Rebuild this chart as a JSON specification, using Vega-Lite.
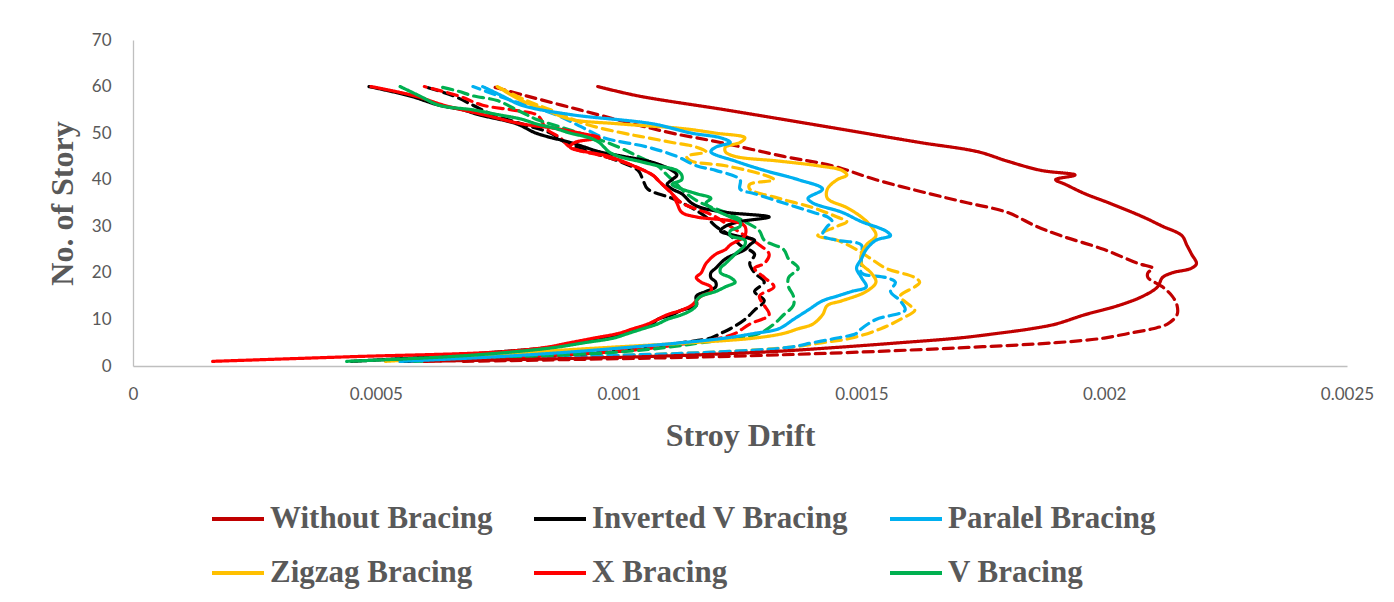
{
"$schema": "https://vega.github.io/schema/vega-lite/v6.json",
"width": 1214, "height": 326,
"autosize": {"type": "none"},
"padding": {"left": 133, "top": 40, "right": 47, "bottom": 236},
"background": "white",
"datasets": {
"lines": [
{"series":"Without Bracing","line":"dashed","story":1,"drift":0.00068},{"series":"Without Bracing","line":"dashed","story":2,"drift":0.0012},{"series":"Without Bracing","line":"dashed","story":3,"drift":0.0015},{"series":"Without Bracing","line":"dashed","story":4,"drift":0.00172},{"series":"Without Bracing","line":"dashed","story":5,"drift":0.0019},{"series":"Without Bracing","line":"dashed","story":6,"drift":0.002},{"series":"Without Bracing","line":"dashed","story":7,"drift":0.00205},{"series":"Without Bracing","line":"dashed","story":8,"drift":0.0021},{"series":"Without Bracing","line":"dashed","story":9,"drift":0.00213},{"series":"Without Bracing","line":"dashed","story":11,"drift":0.00215},{"series":"Without Bracing","line":"dashed","story":13,"drift":0.00215},{"series":"Without Bracing","line":"dashed","story":15,"drift":0.00214},{"series":"Without Bracing","line":"dashed","story":17,"drift":0.00212},{"series":"Without Bracing","line":"dashed","story":19,"drift":0.00209},{"series":"Without Bracing","line":"dashed","story":20,"drift":0.00209},{"series":"Without Bracing","line":"dashed","story":21,"drift":0.0021},{"series":"Without Bracing","line":"dashed","story":22,"drift":0.00207},{"series":"Without Bracing","line":"dashed","story":25,"drift":0.002},{"series":"Without Bracing","line":"dashed","story":28,"drift":0.00191},{"series":"Without Bracing","line":"dashed","story":30,"drift":0.00186},{"series":"Without Bracing","line":"dashed","story":33,"drift":0.0018},{"series":"Without Bracing","line":"dashed","story":35,"drift":0.00172},{"series":"Without Bracing","line":"dashed","story":37,"drift":0.00164},{"series":"Without Bracing","line":"dashed","story":40,"drift":0.00153},{"series":"Without Bracing","line":"dashed","story":43,"drift":0.00144},{"series":"Without Bracing","line":"dashed","story":45,"drift":0.00134},{"series":"Without Bracing","line":"dashed","story":48,"drift":0.00121},{"series":"Without Bracing","line":"dashed","story":50,"drift":0.00111},{"series":"Without Bracing","line":"dashed","story":52,"drift":0.00103},{"series":"Without Bracing","line":"dashed","story":55,"drift":0.00092},{"series":"Without Bracing","line":"dashed","story":58,"drift":0.00081},{"series":"Without Bracing","line":"dashed","story":60,"drift":0.00074},

{"series":"Zigzag Bracing","line":"dashed","story":1,"drift":0.00055},{"series":"Zigzag Bracing","line":"dashed","story":2,"drift":0.0009},{"series":"Zigzag Bracing","line":"dashed","story":3,"drift":0.0012},{"series":"Zigzag Bracing","line":"dashed","story":4,"drift":0.00135},{"series":"Zigzag Bracing","line":"dashed","story":5,"drift":0.00142},{"series":"Zigzag Bracing","line":"dashed","story":6,"drift":0.00148},{"series":"Zigzag Bracing","line":"dashed","story":8,"drift":0.00154},{"series":"Zigzag Bracing","line":"dashed","story":10,"drift":0.00158},{"series":"Zigzag Bracing","line":"dashed","story":12,"drift":0.00161},{"series":"Zigzag Bracing","line":"dashed","story":13,"drift":0.0016},{"series":"Zigzag Bracing","line":"dashed","story":15,"drift":0.00158},{"series":"Zigzag Bracing","line":"dashed","story":17,"drift":0.00161},{"series":"Zigzag Bracing","line":"dashed","story":18,"drift":0.00162},{"series":"Zigzag Bracing","line":"dashed","story":19,"drift":0.00161},{"series":"Zigzag Bracing","line":"dashed","story":21,"drift":0.00155},{"series":"Zigzag Bracing","line":"dashed","story":23,"drift":0.00152},{"series":"Zigzag Bracing","line":"dashed","story":25,"drift":0.00149},{"series":"Zigzag Bracing","line":"dashed","story":27,"drift":0.00145},{"series":"Zigzag Bracing","line":"dashed","story":28,"drift":0.00141},{"series":"Zigzag Bracing","line":"dashed","story":30,"drift":0.00145},{"series":"Zigzag Bracing","line":"dashed","story":31,"drift":0.00147},{"series":"Zigzag Bracing","line":"dashed","story":32,"drift":0.00145},{"series":"Zigzag Bracing","line":"dashed","story":34,"drift":0.0014},{"series":"Zigzag Bracing","line":"dashed","story":36,"drift":0.00133},{"series":"Zigzag Bracing","line":"dashed","story":38,"drift":0.00127},{"series":"Zigzag Bracing","line":"dashed","story":39,"drift":0.00127},{"series":"Zigzag Bracing","line":"dashed","story":40,"drift":0.00132},{"series":"Zigzag Bracing","line":"dashed","story":41,"drift":0.0013},{"series":"Zigzag Bracing","line":"dashed","story":43,"drift":0.00122},{"series":"Zigzag Bracing","line":"dashed","story":44,"drift":0.00115},{"series":"Zigzag Bracing","line":"dashed","story":45,"drift":0.00114},{"series":"Zigzag Bracing","line":"dashed","story":46,"drift":0.00118},{"series":"Zigzag Bracing","line":"dashed","story":47,"drift":0.00116},{"series":"Zigzag Bracing","line":"dashed","story":48,"drift":0.00111},{"series":"Zigzag Bracing","line":"dashed","story":49,"drift":0.00106},{"series":"Zigzag Bracing","line":"dashed","story":50,"drift":0.00101},{"series":"Zigzag Bracing","line":"dashed","story":52,"drift":0.00093},{"series":"Zigzag Bracing","line":"dashed","story":55,"drift":0.00086},{"series":"Zigzag Bracing","line":"dashed","story":57,"drift":0.00081},{"series":"Zigzag Bracing","line":"dashed","story":60,"drift":0.00075},

{"series":"Paralel Bracing","line":"dashed","story":1,"drift":0.00055},{"series":"Paralel Bracing","line":"dashed","story":2,"drift":0.0009},{"series":"Paralel Bracing","line":"dashed","story":3,"drift":0.0012},{"series":"Paralel Bracing","line":"dashed","story":4,"drift":0.00135},{"series":"Paralel Bracing","line":"dashed","story":5,"drift":0.0014},{"series":"Paralel Bracing","line":"dashed","story":6,"drift":0.00145},{"series":"Paralel Bracing","line":"dashed","story":7,"drift":0.00149},{"series":"Paralel Bracing","line":"dashed","story":8,"drift":0.0015},{"series":"Paralel Bracing","line":"dashed","story":10,"drift":0.00153},{"series":"Paralel Bracing","line":"dashed","story":12,"drift":0.00159},{"series":"Paralel Bracing","line":"dashed","story":14,"drift":0.00158},{"series":"Paralel Bracing","line":"dashed","story":16,"drift":0.00156},{"series":"Paralel Bracing","line":"dashed","story":18,"drift":0.00157},{"series":"Paralel Bracing","line":"dashed","story":19,"drift":0.00155},{"series":"Paralel Bracing","line":"dashed","story":20,"drift":0.0015},{"series":"Paralel Bracing","line":"dashed","story":22,"drift":0.0015},{"series":"Paralel Bracing","line":"dashed","story":24,"drift":0.0015},{"series":"Paralel Bracing","line":"dashed","story":26,"drift":0.0015},{"series":"Paralel Bracing","line":"dashed","story":27,"drift":0.00145},{"series":"Paralel Bracing","line":"dashed","story":28,"drift":0.00142},{"series":"Paralel Bracing","line":"dashed","story":30,"drift":0.00143},{"series":"Paralel Bracing","line":"dashed","story":31,"drift":0.00144},{"series":"Paralel Bracing","line":"dashed","story":32,"drift":0.00143},{"series":"Paralel Bracing","line":"dashed","story":33,"drift":0.0014},{"series":"Paralel Bracing","line":"dashed","story":35,"drift":0.00134},{"series":"Paralel Bracing","line":"dashed","story":37,"drift":0.00128},{"series":"Paralel Bracing","line":"dashed","story":38,"drift":0.00125},{"series":"Paralel Bracing","line":"dashed","story":40,"drift":0.00125},{"series":"Paralel Bracing","line":"dashed","story":42,"drift":0.0012},{"series":"Paralel Bracing","line":"dashed","story":43,"drift":0.00116},{"series":"Paralel Bracing","line":"dashed","story":45,"drift":0.00112},{"series":"Paralel Bracing","line":"dashed","story":47,"drift":0.00106},{"series":"Paralel Bracing","line":"dashed","story":49,"drift":0.00097},{"series":"Paralel Bracing","line":"dashed","story":51,"drift":0.00093},{"series":"Paralel Bracing","line":"dashed","story":54,"drift":0.00087},{"series":"Paralel Bracing","line":"dashed","story":57,"drift":0.00078},{"series":"Paralel Bracing","line":"dashed","story":60,"drift":0.0007},

{"series":"Inverted V Bracing","line":"dashed","story":1,"drift":0.00056},{"series":"Inverted V Bracing","line":"dashed","story":2,"drift":0.0008},{"series":"Inverted V Bracing","line":"dashed","story":3,"drift":0.00098},{"series":"Inverted V Bracing","line":"dashed","story":4,"drift":0.00107},{"series":"Inverted V Bracing","line":"dashed","story":5,"drift":0.00113},{"series":"Inverted V Bracing","line":"dashed","story":6,"drift":0.00119},{"series":"Inverted V Bracing","line":"dashed","story":7,"drift":0.00121},{"series":"Inverted V Bracing","line":"dashed","story":8,"drift":0.00123},{"series":"Inverted V Bracing","line":"dashed","story":10,"drift":0.00126},{"series":"Inverted V Bracing","line":"dashed","story":12,"drift":0.00128},{"series":"Inverted V Bracing","line":"dashed","story":14,"drift":0.0013},{"series":"Inverted V Bracing","line":"dashed","story":16,"drift":0.00128},{"series":"Inverted V Bracing","line":"dashed","story":18,"drift":0.0013},{"series":"Inverted V Bracing","line":"dashed","story":20,"drift":0.00128},{"series":"Inverted V Bracing","line":"dashed","story":22,"drift":0.00127},{"series":"Inverted V Bracing","line":"dashed","story":24,"drift":0.00128},{"series":"Inverted V Bracing","line":"dashed","story":26,"drift":0.00125},{"series":"Inverted V Bracing","line":"dashed","story":28,"drift":0.00123},{"series":"Inverted V Bracing","line":"dashed","story":30,"drift":0.0012},{"series":"Inverted V Bracing","line":"dashed","story":32,"drift":0.00118},{"series":"Inverted V Bracing","line":"dashed","story":34,"drift":0.00115},{"series":"Inverted V Bracing","line":"dashed","story":36,"drift":0.00111},{"series":"Inverted V Bracing","line":"dashed","story":38,"drift":0.00106},{"series":"Inverted V Bracing","line":"dashed","story":40,"drift":0.00105},{"series":"Inverted V Bracing","line":"dashed","story":42,"drift":0.00104},{"series":"Inverted V Bracing","line":"dashed","story":44,"drift":0.001},{"series":"Inverted V Bracing","line":"dashed","story":46,"drift":0.00094},{"series":"Inverted V Bracing","line":"dashed","story":48,"drift":0.00089},{"series":"Inverted V Bracing","line":"dashed","story":50,"drift":0.00086},{"series":"Inverted V Bracing","line":"dashed","story":52,"drift":0.0008},{"series":"Inverted V Bracing","line":"dashed","story":54,"drift":0.00074},{"series":"Inverted V Bracing","line":"dashed","story":56,"drift":0.0007},{"series":"Inverted V Bracing","line":"dashed","story":58,"drift":0.00066},{"series":"Inverted V Bracing","line":"dashed","story":60,"drift":0.0006},

{"series":"X Bracing","line":"dashed","story":1,"drift":0.0006},{"series":"X Bracing","line":"dashed","story":2,"drift":0.0008},{"series":"X Bracing","line":"dashed","story":3,"drift":0.00098},{"series":"X Bracing","line":"dashed","story":4,"drift":0.00108},{"series":"X Bracing","line":"dashed","story":5,"drift":0.00115},{"series":"X Bracing","line":"dashed","story":6,"drift":0.00121},{"series":"X Bracing","line":"dashed","story":7,"drift":0.00124},{"series":"X Bracing","line":"dashed","story":9,"drift":0.00127},{"series":"X Bracing","line":"dashed","story":11,"drift":0.00131},{"series":"X Bracing","line":"dashed","story":13,"drift":0.0013},{"series":"X Bracing","line":"dashed","story":15,"drift":0.00129},{"series":"X Bracing","line":"dashed","story":17,"drift":0.00132},{"series":"X Bracing","line":"dashed","story":19,"drift":0.0013},{"series":"X Bracing","line":"dashed","story":21,"drift":0.00128},{"series":"X Bracing","line":"dashed","story":22,"drift":0.0013},{"series":"X Bracing","line":"dashed","story":24,"drift":0.00131},{"series":"X Bracing","line":"dashed","story":26,"drift":0.00129},{"series":"X Bracing","line":"dashed","story":28,"drift":0.00126},{"series":"X Bracing","line":"dashed","story":30,"drift":0.00123},{"series":"X Bracing","line":"dashed","story":32,"drift":0.0012},{"series":"X Bracing","line":"dashed","story":33,"drift":0.00118},{"series":"X Bracing","line":"dashed","story":35,"drift":0.00113},{"series":"X Bracing","line":"dashed","story":37,"drift":0.00111},{"series":"X Bracing","line":"dashed","story":39,"drift":0.00109},{"series":"X Bracing","line":"dashed","story":41,"drift":0.00107},{"series":"X Bracing","line":"dashed","story":43,"drift":0.00103},{"series":"X Bracing","line":"dashed","story":45,"drift":0.00097},{"series":"X Bracing","line":"dashed","story":47,"drift":0.0009},{"series":"X Bracing","line":"dashed","story":49,"drift":0.00088},{"series":"X Bracing","line":"dashed","story":51,"drift":0.00085},{"series":"X Bracing","line":"dashed","story":53,"drift":0.00084},{"series":"X Bracing","line":"dashed","story":54,"drift":0.00083},{"series":"X Bracing","line":"dashed","story":55,"drift":0.00078},{"series":"X Bracing","line":"dashed","story":56,"drift":0.00072},{"series":"X Bracing","line":"dashed","story":58,"drift":0.00067},{"series":"X Bracing","line":"dashed","story":60,"drift":0.0006},

{"series":"V Bracing","line":"dashed","story":1,"drift":0.00058},{"series":"V Bracing","line":"dashed","story":2,"drift":0.0008},{"series":"V Bracing","line":"dashed","story":3,"drift":0.001},{"series":"V Bracing","line":"dashed","story":4,"drift":0.0011},{"series":"V Bracing","line":"dashed","story":5,"drift":0.00117},{"series":"V Bracing","line":"dashed","story":6,"drift":0.00124},{"series":"V Bracing","line":"dashed","story":7,"drift":0.00129},{"series":"V Bracing","line":"dashed","story":9,"drift":0.00132},{"series":"V Bracing","line":"dashed","story":11,"drift":0.00134},{"series":"V Bracing","line":"dashed","story":13,"drift":0.00136},{"series":"V Bracing","line":"dashed","story":15,"drift":0.00136},{"series":"V Bracing","line":"dashed","story":17,"drift":0.00135},{"series":"V Bracing","line":"dashed","story":19,"drift":0.00135},{"series":"V Bracing","line":"dashed","story":21,"drift":0.00137},{"series":"V Bracing","line":"dashed","story":23,"drift":0.00135},{"series":"V Bracing","line":"dashed","story":25,"drift":0.00134},{"series":"V Bracing","line":"dashed","story":27,"drift":0.0013},{"series":"V Bracing","line":"dashed","story":29,"drift":0.00129},{"series":"V Bracing","line":"dashed","story":31,"drift":0.00126},{"series":"V Bracing","line":"dashed","story":33,"drift":0.00122},{"series":"V Bracing","line":"dashed","story":35,"drift":0.00117},{"series":"V Bracing","line":"dashed","story":37,"drift":0.00114},{"series":"V Bracing","line":"dashed","story":39,"drift":0.00112},{"series":"V Bracing","line":"dashed","story":41,"drift":0.0011},{"series":"V Bracing","line":"dashed","story":43,"drift":0.00108},{"series":"V Bracing","line":"dashed","story":45,"drift":0.00104},{"series":"V Bracing","line":"dashed","story":47,"drift":0.001},{"series":"V Bracing","line":"dashed","story":49,"drift":0.00095},{"series":"V Bracing","line":"dashed","story":51,"drift":0.00089},{"series":"V Bracing","line":"dashed","story":53,"drift":0.00083},{"series":"V Bracing","line":"dashed","story":54,"drift":0.00081},{"series":"V Bracing","line":"dashed","story":55,"drift":0.00079},{"series":"V Bracing","line":"dashed","story":57,"drift":0.00075},{"series":"V Bracing","line":"dashed","story":58,"drift":0.0007},{"series":"V Bracing","line":"dashed","story":59,"drift":0.00067},{"series":"V Bracing","line":"dashed","story":60,"drift":0.00063},

{"series":"Without Bracing","line":"solid","story":1,"drift":0.0006},{"series":"Without Bracing","line":"solid","story":2,"drift":0.00105},{"series":"Without Bracing","line":"solid","story":3,"drift":0.0013},{"series":"Without Bracing","line":"solid","story":4,"drift":0.00145},{"series":"Without Bracing","line":"solid","story":5,"drift":0.00158},{"series":"Without Bracing","line":"solid","story":6,"drift":0.0017},{"series":"Without Bracing","line":"solid","story":7,"drift":0.00178},{"series":"Without Bracing","line":"solid","story":8,"drift":0.00185},{"series":"Without Bracing","line":"solid","story":9,"drift":0.0019},{"series":"Without Bracing","line":"solid","story":11,"drift":0.00196},{"series":"Without Bracing","line":"solid","story":13,"drift":0.00203},{"series":"Without Bracing","line":"solid","story":15,"drift":0.00208},{"series":"Without Bracing","line":"solid","story":17,"drift":0.00211},{"series":"Without Bracing","line":"solid","story":19,"drift":0.00212},{"series":"Without Bracing","line":"solid","story":20,"drift":0.00214},{"series":"Without Bracing","line":"solid","story":21,"drift":0.00218},{"series":"Without Bracing","line":"solid","story":22,"drift":0.00219},{"series":"Without Bracing","line":"solid","story":24,"drift":0.00218},{"series":"Without Bracing","line":"solid","story":26,"drift":0.00217},{"series":"Without Bracing","line":"solid","story":28,"drift":0.00216},{"series":"Without Bracing","line":"solid","story":30,"drift":0.00212},{"series":"Without Bracing","line":"solid","story":32,"drift":0.00208},{"series":"Without Bracing","line":"solid","story":35,"drift":0.00201},{"series":"Without Bracing","line":"solid","story":37,"drift":0.00196},{"series":"Without Bracing","line":"solid","story":39,"drift":0.00192},{"series":"Without Bracing","line":"solid","story":40,"drift":0.0019},{"series":"Without Bracing","line":"solid","story":41,"drift":0.00194},{"series":"Without Bracing","line":"solid","story":42,"drift":0.00187},{"series":"Without Bracing","line":"solid","story":44,"drift":0.0018},{"series":"Without Bracing","line":"solid","story":46,"drift":0.00174},{"series":"Without Bracing","line":"solid","story":48,"drift":0.00162},{"series":"Without Bracing","line":"solid","story":51,"drift":0.00145},{"series":"Without Bracing","line":"solid","story":55,"drift":0.00122},{"series":"Without Bracing","line":"solid","story":58,"drift":0.00104},{"series":"Without Bracing","line":"solid","story":60,"drift":0.000957},

{"series":"Zigzag Bracing","line":"solid","story":1,"drift":0.00052},{"series":"Zigzag Bracing","line":"solid","story":2,"drift":0.00068},{"series":"Zigzag Bracing","line":"solid","story":3,"drift":0.00082},{"series":"Zigzag Bracing","line":"solid","story":4,"drift":0.00098},{"series":"Zigzag Bracing","line":"solid","story":5,"drift":0.00115},{"series":"Zigzag Bracing","line":"solid","story":6,"drift":0.00128},{"series":"Zigzag Bracing","line":"solid","story":7,"drift":0.00134},{"series":"Zigzag Bracing","line":"solid","story":8,"drift":0.00137},{"series":"Zigzag Bracing","line":"solid","story":9,"drift":0.0014},{"series":"Zigzag Bracing","line":"solid","story":11,"drift":0.00142},{"series":"Zigzag Bracing","line":"solid","story":13,"drift":0.00143},{"series":"Zigzag Bracing","line":"solid","story":14,"drift":0.00146},{"series":"Zigzag Bracing","line":"solid","story":16,"drift":0.00151},{"series":"Zigzag Bracing","line":"solid","story":18,"drift":0.00153},{"series":"Zigzag Bracing","line":"solid","story":20,"drift":0.00152},{"series":"Zigzag Bracing","line":"solid","story":22,"drift":0.0015},{"series":"Zigzag Bracing","line":"solid","story":24,"drift":0.0015},{"series":"Zigzag Bracing","line":"solid","story":26,"drift":0.00151},{"series":"Zigzag Bracing","line":"solid","story":28,"drift":0.00153},{"series":"Zigzag Bracing","line":"solid","story":30,"drift":0.00152},{"series":"Zigzag Bracing","line":"solid","story":32,"drift":0.0015},{"series":"Zigzag Bracing","line":"solid","story":34,"drift":0.00147},{"series":"Zigzag Bracing","line":"solid","story":36,"drift":0.00143},{"series":"Zigzag Bracing","line":"solid","story":38,"drift":0.00143},{"series":"Zigzag Bracing","line":"solid","story":40,"drift":0.00145},{"series":"Zigzag Bracing","line":"solid","story":41,"drift":0.00147},{"series":"Zigzag Bracing","line":"solid","story":42,"drift":0.00146},{"series":"Zigzag Bracing","line":"solid","story":43,"drift":0.00141},{"series":"Zigzag Bracing","line":"solid","story":44,"drift":0.00133},{"series":"Zigzag Bracing","line":"solid","story":45,"drift":0.00124},{"series":"Zigzag Bracing","line":"solid","story":46,"drift":0.00122},{"series":"Zigzag Bracing","line":"solid","story":47,"drift":0.00122},{"series":"Zigzag Bracing","line":"solid","story":48,"drift":0.00125},{"series":"Zigzag Bracing","line":"solid","story":49,"drift":0.00126},{"series":"Zigzag Bracing","line":"solid","story":50,"drift":0.0012},{"series":"Zigzag Bracing","line":"solid","story":51,"drift":0.00113},{"series":"Zigzag Bracing","line":"solid","story":52,"drift":0.001},{"series":"Zigzag Bracing","line":"solid","story":53,"drift":0.0009},{"series":"Zigzag Bracing","line":"solid","story":55,"drift":0.00085},{"series":"Zigzag Bracing","line":"solid","story":57,"drift":0.0008},{"series":"Zigzag Bracing","line":"solid","story":60,"drift":0.00075},

{"series":"Paralel Bracing","line":"solid","story":1,"drift":0.00055},{"series":"Paralel Bracing","line":"solid","story":2,"drift":0.00075},{"series":"Paralel Bracing","line":"solid","story":3,"drift":0.0009},{"series":"Paralel Bracing","line":"solid","story":4,"drift":0.00102},{"series":"Paralel Bracing","line":"solid","story":5,"drift":0.00113},{"series":"Paralel Bracing","line":"solid","story":6,"drift":0.00122},{"series":"Paralel Bracing","line":"solid","story":7,"drift":0.00128},{"series":"Paralel Bracing","line":"solid","story":8,"drift":0.00133},{"series":"Paralel Bracing","line":"solid","story":10,"drift":0.00136},{"series":"Paralel Bracing","line":"solid","story":12,"drift":0.00139},{"series":"Paralel Bracing","line":"solid","story":14,"drift":0.00142},{"series":"Paralel Bracing","line":"solid","story":15,"drift":0.00145},{"series":"Paralel Bracing","line":"solid","story":16,"drift":0.00148},{"series":"Paralel Bracing","line":"solid","story":17,"drift":0.00151},{"series":"Paralel Bracing","line":"solid","story":19,"drift":0.0015},{"series":"Paralel Bracing","line":"solid","story":21,"drift":0.00149},{"series":"Paralel Bracing","line":"solid","story":23,"drift":0.0015},{"series":"Paralel Bracing","line":"solid","story":25,"drift":0.00151},{"series":"Paralel Bracing","line":"solid","story":27,"drift":0.00153},{"series":"Paralel Bracing","line":"solid","story":28,"drift":0.00156},{"series":"Paralel Bracing","line":"solid","story":29,"drift":0.00155},{"series":"Paralel Bracing","line":"solid","story":31,"drift":0.0015},{"series":"Paralel Bracing","line":"solid","story":33,"drift":0.00146},{"series":"Paralel Bracing","line":"solid","story":35,"drift":0.0014},{"series":"Paralel Bracing","line":"solid","story":36,"drift":0.00139},{"series":"Paralel Bracing","line":"solid","story":38,"drift":0.00142},{"series":"Paralel Bracing","line":"solid","story":40,"drift":0.00137},{"series":"Paralel Bracing","line":"solid","story":42,"drift":0.0013},{"series":"Paralel Bracing","line":"solid","story":44,"drift":0.00124},{"series":"Paralel Bracing","line":"solid","story":46,"drift":0.00119},{"series":"Paralel Bracing","line":"solid","story":47,"drift":0.0012},{"series":"Paralel Bracing","line":"solid","story":48,"drift":0.00123},{"series":"Paralel Bracing","line":"solid","story":49,"drift":0.00121},{"series":"Paralel Bracing","line":"solid","story":50,"drift":0.00115},{"series":"Paralel Bracing","line":"solid","story":52,"drift":0.00107},{"series":"Paralel Bracing","line":"solid","story":54,"drift":0.0009},{"series":"Paralel Bracing","line":"solid","story":56,"drift":0.0008},{"series":"Paralel Bracing","line":"solid","story":58,"drift":0.00076},{"series":"Paralel Bracing","line":"solid","story":60,"drift":0.00072},

{"series":"Inverted V Bracing","line":"solid","story":1,"drift":0.00045},{"series":"Inverted V Bracing","line":"solid","story":2,"drift":0.00062},{"series":"Inverted V Bracing","line":"solid","story":3,"drift":0.00075},{"series":"Inverted V Bracing","line":"solid","story":4,"drift":0.00086},{"series":"Inverted V Bracing","line":"solid","story":5,"drift":0.00092},{"series":"Inverted V Bracing","line":"solid","story":6,"drift":0.00097},{"series":"Inverted V Bracing","line":"solid","story":7,"drift":0.00101},{"series":"Inverted V Bracing","line":"solid","story":8,"drift":0.00104},{"series":"Inverted V Bracing","line":"solid","story":9,"drift":0.00107},{"series":"Inverted V Bracing","line":"solid","story":10,"drift":0.00108},{"series":"Inverted V Bracing","line":"solid","story":11,"drift":0.00111},{"series":"Inverted V Bracing","line":"solid","story":12,"drift":0.00113},{"series":"Inverted V Bracing","line":"solid","story":13,"drift":0.00116},{"series":"Inverted V Bracing","line":"solid","story":15,"drift":0.00116},{"series":"Inverted V Bracing","line":"solid","story":16,"drift":0.00118},{"series":"Inverted V Bracing","line":"solid","story":17,"drift":0.0012},{"series":"Inverted V Bracing","line":"solid","story":18,"drift":0.0012},{"series":"Inverted V Bracing","line":"solid","story":19,"drift":0.00119},{"series":"Inverted V Bracing","line":"solid","story":20,"drift":0.00119},{"series":"Inverted V Bracing","line":"solid","story":21,"drift":0.0012},{"series":"Inverted V Bracing","line":"solid","story":23,"drift":0.00122},{"series":"Inverted V Bracing","line":"solid","story":24,"drift":0.00124},{"series":"Inverted V Bracing","line":"solid","story":25,"drift":0.00126},{"series":"Inverted V Bracing","line":"solid","story":26,"drift":0.00127},{"series":"Inverted V Bracing","line":"solid","story":27,"drift":0.00128},{"series":"Inverted V Bracing","line":"solid","story":28,"drift":0.00124},{"series":"Inverted V Bracing","line":"solid","story":29,"drift":0.00121},{"series":"Inverted V Bracing","line":"solid","story":30,"drift":0.00122},{"series":"Inverted V Bracing","line":"solid","story":31,"drift":0.00125},{"series":"Inverted V Bracing","line":"solid","story":32,"drift":0.00131},{"series":"Inverted V Bracing","line":"solid","story":33,"drift":0.00122},{"series":"Inverted V Bracing","line":"solid","story":34,"drift":0.00117},{"series":"Inverted V Bracing","line":"solid","story":35,"drift":0.00115},{"series":"Inverted V Bracing","line":"solid","story":36,"drift":0.00114},{"series":"Inverted V Bracing","line":"solid","story":37,"drift":0.00113},{"series":"Inverted V Bracing","line":"solid","story":38,"drift":0.00111},{"series":"Inverted V Bracing","line":"solid","story":39,"drift":0.0011},{"series":"Inverted V Bracing","line":"solid","story":40,"drift":0.00111},{"series":"Inverted V Bracing","line":"solid","story":41,"drift":0.00112},{"series":"Inverted V Bracing","line":"solid","story":42,"drift":0.00111},{"series":"Inverted V Bracing","line":"solid","story":43,"drift":0.00109},{"series":"Inverted V Bracing","line":"solid","story":44,"drift":0.00106},{"series":"Inverted V Bracing","line":"solid","story":45,"drift":0.00101},{"series":"Inverted V Bracing","line":"solid","story":46,"drift":0.00096},{"series":"Inverted V Bracing","line":"solid","story":47,"drift":0.00093},{"series":"Inverted V Bracing","line":"solid","story":48,"drift":0.0009},{"series":"Inverted V Bracing","line":"solid","story":50,"drift":0.00083},{"series":"Inverted V Bracing","line":"solid","story":52,"drift":0.00079},{"series":"Inverted V Bracing","line":"solid","story":54,"drift":0.00071},{"series":"Inverted V Bracing","line":"solid","story":55,"drift":0.00068},{"series":"Inverted V Bracing","line":"solid","story":56,"drift":0.00063},{"series":"Inverted V Bracing","line":"solid","story":58,"drift":0.00057},{"series":"Inverted V Bracing","line":"solid","story":60,"drift":0.000486},

{"series":"X Bracing","line":"solid","story":1,"drift":0.000164},{"series":"X Bracing","line":"solid","story":2,"drift":0.00045},{"series":"X Bracing","line":"solid","story":3,"drift":0.00075},{"series":"X Bracing","line":"solid","story":4,"drift":0.00085},{"series":"X Bracing","line":"solid","story":5,"drift":0.0009},{"series":"X Bracing","line":"solid","story":6,"drift":0.00095},{"series":"X Bracing","line":"solid","story":7,"drift":0.001},{"series":"X Bracing","line":"solid","story":8,"drift":0.00103},{"series":"X Bracing","line":"solid","story":9,"drift":0.00106},{"series":"X Bracing","line":"solid","story":10,"drift":0.00108},{"series":"X Bracing","line":"solid","story":11,"drift":0.0011},{"series":"X Bracing","line":"solid","story":12,"drift":0.00113},{"series":"X Bracing","line":"solid","story":13,"drift":0.00115},{"series":"X Bracing","line":"solid","story":14,"drift":0.00116},{"series":"X Bracing","line":"solid","story":15,"drift":0.00117},{"series":"X Bracing","line":"solid","story":16,"drift":0.00119},{"series":"X Bracing","line":"solid","story":17,"drift":0.00119},{"series":"X Bracing","line":"solid","story":18,"drift":0.00117},{"series":"X Bracing","line":"solid","story":19,"drift":0.00116},{"series":"X Bracing","line":"solid","story":20,"drift":0.00117},{"series":"X Bracing","line":"solid","story":22,"drift":0.00118},{"series":"X Bracing","line":"solid","story":24,"drift":0.0012},{"series":"X Bracing","line":"solid","story":25,"drift":0.00122},{"series":"X Bracing","line":"solid","story":26,"drift":0.00123},{"series":"X Bracing","line":"solid","story":28,"drift":0.00126},{"series":"X Bracing","line":"solid","story":30,"drift":0.00126},{"series":"X Bracing","line":"solid","story":31,"drift":0.00124},{"series":"X Bracing","line":"solid","story":32,"drift":0.00116},{"series":"X Bracing","line":"solid","story":33,"drift":0.00113},{"series":"X Bracing","line":"solid","story":35,"drift":0.00112},{"series":"X Bracing","line":"solid","story":37,"drift":0.00111},{"series":"X Bracing","line":"solid","story":39,"drift":0.00109},{"series":"X Bracing","line":"solid","story":40,"drift":0.00108},{"series":"X Bracing","line":"solid","story":41,"drift":0.00107},{"series":"X Bracing","line":"solid","story":43,"drift":0.00103},{"series":"X Bracing","line":"solid","story":45,"drift":0.00098},{"series":"X Bracing","line":"solid","story":47,"drift":0.0009},{"series":"X Bracing","line":"solid","story":48,"drift":0.00091},{"series":"X Bracing","line":"solid","story":49,"drift":0.00096},{"series":"X Bracing","line":"solid","story":50,"drift":0.00092},{"series":"X Bracing","line":"solid","story":51,"drift":0.00087},{"series":"X Bracing","line":"solid","story":52,"drift":0.0008},{"series":"X Bracing","line":"solid","story":54,"drift":0.00072},{"series":"X Bracing","line":"solid","story":56,"drift":0.00064},{"series":"X Bracing","line":"solid","story":58,"drift":0.00058},{"series":"X Bracing","line":"solid","story":60,"drift":0.00049},

{"series":"V Bracing","line":"solid","story":1,"drift":0.00044},{"series":"V Bracing","line":"solid","story":2,"drift":0.00065},{"series":"V Bracing","line":"solid","story":3,"drift":0.00078},{"series":"V Bracing","line":"solid","story":4,"drift":0.00087},{"series":"V Bracing","line":"solid","story":5,"drift":0.00093},{"series":"V Bracing","line":"solid","story":6,"drift":0.00099},{"series":"V Bracing","line":"solid","story":7,"drift":0.00102},{"series":"V Bracing","line":"solid","story":8,"drift":0.00105},{"series":"V Bracing","line":"solid","story":9,"drift":0.00108},{"series":"V Bracing","line":"solid","story":10,"drift":0.0011},{"series":"V Bracing","line":"solid","story":11,"drift":0.00113},{"series":"V Bracing","line":"solid","story":12,"drift":0.00115},{"series":"V Bracing","line":"solid","story":13,"drift":0.00116},{"series":"V Bracing","line":"solid","story":14,"drift":0.00116},{"series":"V Bracing","line":"solid","story":15,"drift":0.00117},{"series":"V Bracing","line":"solid","story":16,"drift":0.0012},{"series":"V Bracing","line":"solid","story":17,"drift":0.00122},{"series":"V Bracing","line":"solid","story":18,"drift":0.00124},{"series":"V Bracing","line":"solid","story":19,"drift":0.00123},{"series":"V Bracing","line":"solid","story":20,"drift":0.00121},{"series":"V Bracing","line":"solid","story":21,"drift":0.00121},{"series":"V Bracing","line":"solid","story":22,"drift":0.00122},{"series":"V Bracing","line":"solid","story":24,"drift":0.00124},{"series":"V Bracing","line":"solid","story":26,"drift":0.00126},{"series":"V Bracing","line":"solid","story":27,"drift":0.00126},{"series":"V Bracing","line":"solid","story":28,"drift":0.00123},{"series":"V Bracing","line":"solid","story":29,"drift":0.00123},{"series":"V Bracing","line":"solid","story":30,"drift":0.00125},{"series":"V Bracing","line":"solid","story":31,"drift":0.00125},{"series":"V Bracing","line":"solid","story":32,"drift":0.00123},{"series":"V Bracing","line":"solid","story":34,"drift":0.00119},{"series":"V Bracing","line":"solid","story":35,"drift":0.00118},{"series":"V Bracing","line":"solid","story":36,"drift":0.00119},{"series":"V Bracing","line":"solid","story":37,"drift":0.00116},{"series":"V Bracing","line":"solid","story":38,"drift":0.00113},{"series":"V Bracing","line":"solid","story":39,"drift":0.00111},{"series":"V Bracing","line":"solid","story":40,"drift":0.00113},{"series":"V Bracing","line":"solid","story":41,"drift":0.00113},{"series":"V Bracing","line":"solid","story":42,"drift":0.00112},{"series":"V Bracing","line":"solid","story":43,"drift":0.00108},{"series":"V Bracing","line":"solid","story":44,"drift":0.00104},{"series":"V Bracing","line":"solid","story":45,"drift":0.001},{"series":"V Bracing","line":"solid","story":46,"drift":0.00098},{"series":"V Bracing","line":"solid","story":47,"drift":0.00097},{"series":"V Bracing","line":"solid","story":48,"drift":0.00096},{"series":"V Bracing","line":"solid","story":49,"drift":0.00094},{"series":"V Bracing","line":"solid","story":50,"drift":0.0009},{"series":"V Bracing","line":"solid","story":51,"drift":0.00087},{"series":"V Bracing","line":"solid","story":52,"drift":0.00083},{"series":"V Bracing","line":"solid","story":53,"drift":0.0008},{"series":"V Bracing","line":"solid","story":54,"drift":0.00075},{"series":"V Bracing","line":"solid","story":55,"drift":0.0007},{"series":"V Bracing","line":"solid","story":56,"drift":0.00063},{"series":"V Bracing","line":"solid","story":58,"drift":0.00059},{"series":"V Bracing","line":"solid","story":60,"drift":0.00055}
]
},
"data": {"name": "lines"},
"mark": {"type": "line", "strokeWidth": 3.2, "interpolate": "catmull-rom", "strokeCap": "round"},
"encoding": {
  "x": {"field": "drift", "type": "quantitative",
        "scale": {"domain": [0, 0.0025], "nice": false},
        "axis": {"values": [0, 0.0005, 0.001, 0.0015, 0.002, 0.0025], "format": "~g", "title": "Stroy Drift",
                 "labelFlush": false, "labelPadding": 20, "titlePadding": 18}},
  "y": {"field": "story", "type": "quantitative",
        "scale": {"domain": [0, 70], "nice": false},
        "axis": {"values": [0, 10, 20, 30, 40, 50, 60, 70], "title": "No. of Story",
                 "labelFlush": false, "labelPadding": 22, "titlePadding": 12}},
  "color": {"field": "series", "type": "nominal",
            "scale": {"domain": ["Without Bracing", "Inverted V Bracing", "Paralel Bracing", "Zigzag Bracing", "X Bracing", "V Bracing"],
                      "range": ["#C00000", "#000000", "#00B0F0", "#FFC000", "#FF0000", "#00B050"]},
            "legend": {"orient": "none", "legendX": 77, "legendY": 451, "direction": "horizontal", "columns": 3,
                       "title": null, "symbolType": "stroke", "symbolSize": 2704, "symbolStrokeWidth": 4,
                       "labelFont": "Liberation Serif", "labelFontWeight": "bold", "labelFontSize": 31,
                       "labelColor": "#595959", "columnPadding": 33, "rowPadding": 11, "labelOffset": 4, "labelLimit": 500}},
  "strokeDash": {"field": "line", "type": "nominal",
                 "scale": {"domain": ["solid", "dashed"], "range": [[1, 0], [10, 6]]}, "legend": null},
  "order": {"field": "story", "type": "quantitative"}
},
"config": {
  "view": {"stroke": null},
  "axis": {"grid": false, "ticks": false, "domainColor": "#BFBFBF", "domainWidth": 1.3,
           "labelFont": "Lato", "labelFontSize": 17, "labelColor": "#595959",
           "titleFont": "Liberation Serif", "titleFontWeight": "bold", "titleFontSize": 32, "titleColor": "#595959"}
}
}
